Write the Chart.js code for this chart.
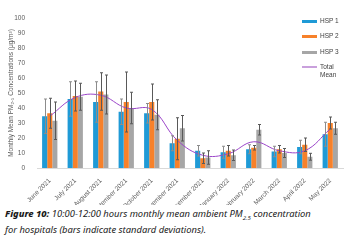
<!DOCTYPE html>
<html><head><meta charset="utf-8">
<script src="https://cdn.jsdelivr.net/npm/chart.js@4.4.1/dist/chart.umd.min.js"></script>
<style>
html,body{margin:0;padding:0;background:#fff;width:350px;height:240px;overflow:hidden;}
#wrap{position:relative;width:350px;height:205px;}
#legend{position:absolute;left:302px;top:17px;width:48px;font-family:"Liberation Sans",Arial,sans-serif;font-size:6.5px;color:#404040;line-height:8px;white-space:nowrap;}
.li{position:relative;height:15.3px;}
.sw{position:absolute;left:0;top:3px;width:15px;height:2px;}
.tx{position:absolute;left:18px;top:0;}
#cap{position:absolute;left:5px;top:208px;width:345px;white-space:nowrap;font-family:"Noto Sans","Open Sans",sans-serif;font-style:italic;font-size:9.4px;line-height:12.5px;color:#1a1a1a;}
#cap b{font-weight:800;}
</style></head><body>
<div id="wrap"><canvas id="c" width="350" height="205"></canvas>
<div id="legend">
<div class="li"><div class="sw" style="background:#1f9ad6;height:3px"></div><div class="tx">HSP 1</div></div>
<div class="li"><div class="sw" style="background:#f7812a;height:3px"></div><div class="tx">HSP 2</div></div>
<div class="li"><div class="sw" style="background:#a6a6a6;height:3px"></div><div class="tx">HSP 3</div></div>
<div class="li"><div class="sw" style="background:#c9a0dc;height:2px;top:3px"></div><div class="tx">Total<br>Mean</div></div>
</div></div>
<div id="cap"><b>Figure 10:</b> 10:00-12:00 hours monthly mean ambient PM<sub style="font-size:6px">2.5</sub> concentration<br>for hospitals (bars indicate standard deviations).</div>
<script>
const months = ["June 2021","July 2021","August 2021","September 2021","October 2021","November 2021","December 2021","January 2022","February 2022","March 2022","April 2022","May 2022"];
const hsp1 = [34.5, 46, 44, 37.5, 36.5, 16.5, 11.5, 10.5, 12.5, 11, 14, 22.5];
const hsp2 = [36.5, 48, 51, 44, 44, 19.5, 6.5, 11.5, 13.5, 12.5, 15.5, 30];
const hsp3 = [31.5, 47.5, 49, 40, 35.5, 26.5, 7, 8.5, 25.5, 10, 7.5, 26.5];
const sd1 = [11.5, 11.5, 13.5, 8.5, 6.5, 5, 3.5, 4, 3, 3.5, 4.5, 8];
const sd2 = [10, 10, 12.5, 20, 12, 14, 3.5, 3.5, 1.5, 2.5, 4.5, 4];
const sd3 = [12.5, 9, 13, 10.5, 10, 8.5, 4.5, 3.5, 3.5, 3, 2.3, 4];
const totalMean = [34.5, 47, 48.5, 40, 39, 18.5, 8.5, 9.5, 17.5, 11.5, 11.5, 26];
const yTicks = [0,10,20,30,40,50,60,70,80,90,100];

const errPlugin = {
  id:'err',
  afterDatasetsDraw(chart){
    const ctx = chart.ctx, ys = chart.scales.y;
    const sds = [sd1, sd2, sd3];
    const cols = ['#8c8c8c','#595959','#595959'];
    for (let d=0; d<3; d++){
      const meta = chart.getDatasetMeta(d+1);
      const vals = chart.data.datasets[d+1].data;
      ctx.save();
      ctx.strokeStyle = cols[d];
      ctx.lineWidth = 1;
      meta.data.forEach((bar,i)=>{
        const x = Math.round(bar.x)+0.5;
        const top = ys.getPixelForValue(vals[i]+sds[d][i]);
        const bot = ys.getPixelForValue(vals[i]-sds[d][i]);
        ctx.beginPath();
        ctx.moveTo(x, top); ctx.lineTo(x, bot);
        ctx.moveTo(x-1.5, top); ctx.lineTo(x+1.5, top);
        ctx.moveTo(x-1.5, bot); ctx.lineTo(x+1.5, bot);
        ctx.stroke();
      });
      ctx.restore();
    }
  }
};

new Chart(document.getElementById('c'), {
  data:{
    labels: months,
    datasets:[
      {type:'line', label:'Total Mean', data: totalMean, borderColor:'#9b45c9', borderWidth:1, pointRadius:0, tension:0.4, order:0},
      {type:'bar', label:'HSP 1', data: hsp1, backgroundColor:'#1f9ad6', order:1},
      {type:'bar', label:'HSP 2', data: hsp2, backgroundColor:'#f7812a', order:1},
      {type:'bar', label:'HSP 3', data: hsp3, backgroundColor:'#a6a6a6', order:1}
    ]
  },
  options:{
    responsive:false, animation:false,
    layout:{padding:{top:18,right:7,left:0,bottom:0}},
    datasets:{bar:{categoryPercentage:0.6, barPercentage:1.0}},
    plugins:{legend:{display:false}, tooltip:{enabled:false}},
    scales:{
      x:{
        grid:{display:false},
        border:{color:'#d9d9d9'},
        ticks:{color:'#595959', font:{family:'Liberation Sans', size:6.5}, maxRotation:45, minRotation:45, padding:1, autoSkip:false},
        afterFit(s){ s.height = 37; }
      },
      y:{
        min:0, max:100,
        grid:{display:false},
        border:{display:false},
        ticks:{color:'#595959', font:{family:'Liberation Sans', size:6.5}, stepSize:10, padding:4,
          callback:(v)=> yTicks.includes(v) ? v : ''},
        title:{display:true, text:'Monthly Mean PM₂.₅ Concentrations (μg/m³)', color:'#595959', font:{family:'Liberation Sans', size:6.5}, padding:{top:7,bottom:0}},
        afterFit(s){ s.width = 37; }
      }
    }
  },
  plugins:[errPlugin]
});
</script>
</body></html>
